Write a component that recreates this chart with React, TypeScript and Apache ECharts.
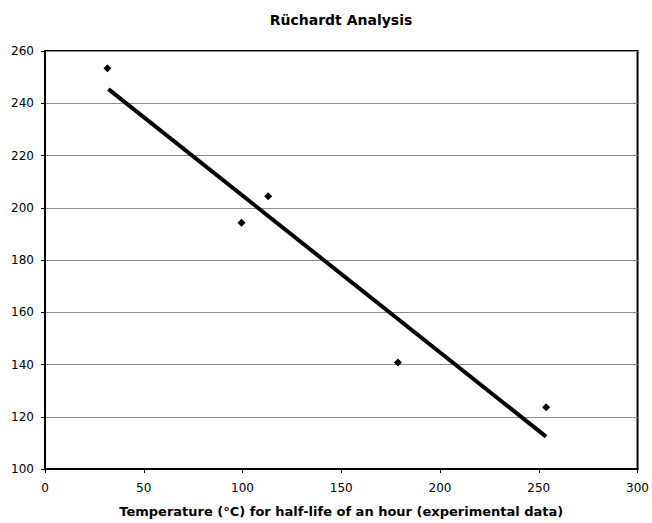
import React, { useEffect, useRef } from "react";
import * as echarts from "echarts";

const titleText = "Rüchardt Analysis";
const xAxisName = "Temperature (°C) for half-life of an hour (experimental data)";
const xTemps = [31.6, 99.5, 113, 178.7, 253.7];
const yValues = [253.4, 194.3, 204.4, 140.8, 123.6];
const trendX = [32.1, 253.7];
const trendY = [245.4, 112.4];

export default function App() {
  const ref = useRef<HTMLDivElement>(null);
  useEffect(() => {
    if (!ref.current) return;
    const chart = echarts.init(ref.current, null, { renderer: "svg" });
    const font = "DejaVu Sans, Verdana, sans-serif";
    chart.setOption({
      animation: false,
      backgroundColor: "#ffffff",
      title: {
        text: titleText,
        left: 336,
        textAlign: "center",
        top: 8,
        textStyle: { fontFamily: font, fontSize: 14, fontWeight: "bold", color: "#000" },
      },
      grid: {
        left: 45,
        right: 12,
        top: 51,
        bottom: 50,
        show: true,
        borderColor: "#000",
        borderWidth: 2,
        backgroundColor: "#fff",
      },
      xAxis: {
        type: "value",
        min: 0,
        max: 300,
        interval: 50,
        name: xAxisName,
        nameLocation: "middle",
        nameGap: 36,
        nameTextStyle: { fontFamily: font, fontSize: 13, fontWeight: "bold", color: "#000" },
        axisLine: { show: true, lineStyle: { color: "#000", width: 2 } },
        axisTick: { show: true, length: 4, lineStyle: { color: "#000" } },
        axisLabel: { fontFamily: font, fontSize: 12, color: "#000", margin: 13 },
        splitLine: { show: false },
      },
      yAxis: {
        type: "value",
        min: 100,
        max: 260,
        interval: 20,
        axisLine: { show: true, lineStyle: { color: "#000", width: 2 } },
        axisTick: { show: true, length: 4, lineStyle: { color: "#000" } },
        axisLabel: { fontFamily: font, fontSize: 12, color: "#000", margin: 11 },
        splitLine: { show: true, lineStyle: { color: "#8c8c8c", width: 1 } },
      },
      series: [
        {
          type: "line",
          data: trendX.map((x, i) => [x, trendY[i]]),
          showSymbol: false,
          symbol: "none",
          lineStyle: { color: "#000", width: 4 },
          z: 2,
        },
        {
          type: "scatter",
          data: xTemps.map((x, i) => [x, yValues[i]]),
          symbol: "diamond",
          symbolSize: 8,
          itemStyle: { color: "#000", opacity: 1 },
          z: 3,
        },
      ],
    });
    return () => chart.dispose();
  }, []);
  return <div ref={ref} style={{ width: 652, height: 523, position: "absolute", left: 0, top: 0 }} />;
}
